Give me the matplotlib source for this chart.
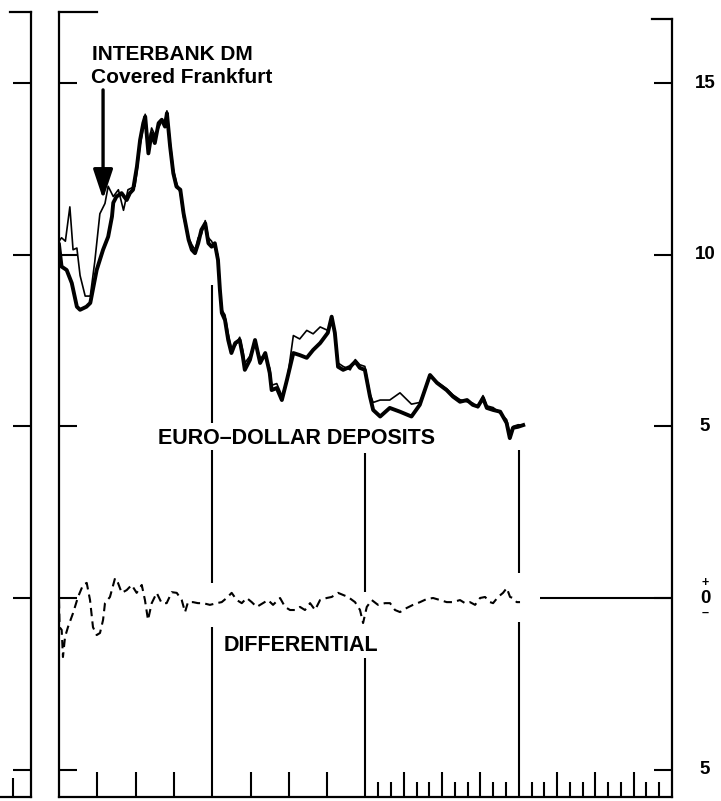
import matplotlib.pyplot as plt
import matplotlib.transforms as mtransforms

plt.rcParams['font.family'] = ['Liberation Sans', 'DejaVu Sans']

# months from start of chart (4 years = 48 months), values in percent
ed_months = [0.0, 0.2, 0.6, 1.0, 1.4, 1.65, 2.15, 2.45, 2.7, 2.95, 3.45, 3.85, 4.15, 4.25,
             4.5, 4.9, 5.3, 5.55, 5.8, 6.1, 6.35, 6.6, 6.75, 7.0, 7.25, 7.5, 7.8, 8.05, 8.3,
             8.45, 8.7, 8.95, 9.2, 9.5, 9.75, 10.15, 10.4, 10.65, 10.9, 11.15, 11.45, 11.7,
             11.95, 12.2, 12.45, 12.6, 12.75, 13.0, 13.25, 13.5, 13.8, 14.15, 14.4, 14.55,
             14.95, 15.35, 15.75, 16.15, 16.5, 16.65, 17.05, 17.45, 17.85, 18.35, 18.85,
             19.4, 19.9, 20.45, 21.05, 21.35, 21.6, 21.85, 22.25, 22.8, 23.2, 23.55, 23.95,
             24.35, 24.6, 25.15, 25.9, 26.7, 27.6, 28.25, 29.05, 29.6, 30.35, 30.85, 31.4,
             31.95, 32.4, 32.8, 33.2, 33.5, 34.0, 34.55, 35.05, 35.3, 35.55, 35.95, 36.35]
euro_dollar = [10.3, 9.66, 9.56, 9.18, 8.49, 8.40, 8.49, 8.60, 9.08, 9.56, 10.15, 10.53,
               11.12, 11.52, 11.70, 11.80, 11.60, 11.80, 11.90, 12.57, 13.35, 13.84, 14.03,
               12.96, 13.55, 13.26, 13.84, 13.94, 13.74, 14.13, 13.16, 12.38, 11.99, 11.90,
               11.22, 10.44, 10.15, 10.05, 10.34, 10.73, 10.92, 10.34, 10.24, 10.34, 9.85,
               8.98, 8.31, 8.10, 7.52, 7.14, 7.43, 7.52, 7.03, 6.65, 6.94, 7.52, 6.85, 7.14,
               6.56, 6.06, 6.12, 5.77, 6.36, 7.14, 7.08, 7.00, 7.23, 7.43, 7.73, 8.20, 7.73,
               6.74, 6.65, 6.74, 6.89, 6.71, 6.65, 5.87, 5.48, 5.29, 5.54, 5.43, 5.29, 5.63,
               6.50, 6.27, 6.06, 5.87, 5.72, 5.77, 5.63, 5.58, 5.83, 5.54, 5.48, 5.43, 5.10,
               4.66, 4.96, 4.99, 5.04]

ib_months = [0.0, 0.2, 0.5, 0.85, 1.1, 1.4, 1.65, 2.05, 2.45, 2.8, 3.2, 3.6, 3.85, 4.25,
             4.65, 5.05, 5.4, 5.95] + ed_months[19:]
interbank_dm = [10.4, 10.5, 10.4, 11.4, 10.15, 10.2, 9.4, 8.8, 8.8, 9.8, 11.2, 11.5, 12.0,
                11.7, 11.9, 11.3, 11.9, 12.0,
                12.4, 13.2, 13.7, 14.1, 13.2, 13.7, 13.5, 13.7, 13.9, 13.9, 14.2, 13.3, 12.5,
                12.1, 11.8, 11.1, 10.5, 10.3, 10.15, 10.5, 10.6, 11.0, 10.5, 10.4, 10.2, 10.0,
                9.1, 8.4, 8.25, 7.7, 7.3, 7.35, 7.6, 7.2, 6.85, 7.05, 7.45, 7.0, 7.05, 6.7,
                6.2, 6.25, 5.9, 6.3, 7.65, 7.55, 7.8, 7.7, 7.9, 7.8, 8.1, 7.8, 6.85, 6.75,
                6.65, 6.95, 6.8, 6.75, 5.95, 5.7, 5.77, 5.77, 5.98, 5.65, 5.7, 6.45, 6.3, 6.1,
                5.92, 5.78, 5.72, 5.68, 5.55, 5.9, 5.6, 5.55, 5.38, 5.2, 4.8, 5.0, 5.05, 5.04]

diff_months = [0.0, 0.05, 0.21, 0.31, 0.47, 0.7, 1.1, 1.49, 1.88, 2.17, 2.43, 2.66, 2.95,
               3.21, 3.45, 3.6, 3.99, 4.39, 4.62, 4.91, 5.3, 5.69, 6.08, 6.48, 6.73, 6.97,
               7.26, 7.65, 8.04, 8.43, 8.83, 9.22, 9.61, 9.87, 10.1, 10.49, 10.88, 11.28,
               11.82, 12.35, 12.74, 13.13, 13.52, 13.92, 14.31, 14.7, 15.09, 15.48, 15.97,
               16.37, 16.76, 17.31, 17.7, 18.09, 18.48, 18.87, 19.26, 19.66, 20.05, 20.44,
               20.96, 21.35, 21.85, 22.24, 22.63, 23.18, 23.57, 23.81, 24.1, 24.49, 24.98,
               25.53, 25.92, 26.31, 26.7, 27.23, 27.72, 28.27, 28.79, 29.29, 29.84, 30.36,
               30.85, 31.4, 31.79, 32.18, 32.58, 32.97, 33.36, 33.75, 33.99, 34.38, 34.77,
               35.06, 35.32, 35.55, 35.84, 36.1]
differential = [-0.06, -0.85, -0.93, -1.72, -1.14, -0.85, -0.44, 0.03, 0.38, 0.44, -0.06,
                -0.85, -1.08, -1.02, -0.64, -0.15, 0.03, 0.58, 0.44, 0.15, 0.23, 0.38, 0.15,
                0.38, -0.06, -0.64, -0.15, 0.15, -0.15, -0.15, 0.17, 0.15, -0.06, -0.41,
                -0.12, -0.12, -0.15, -0.15, -0.2, -0.15, -0.12, 0.0, 0.15, -0.06, -0.15, 0.0,
                -0.12, -0.26, -0.15, -0.06, -0.2, 0.0, -0.26, -0.35, -0.35, -0.26, -0.35,
                -0.15, -0.35, -0.06, 0.0, 0.03, 0.15, 0.09, 0.03, -0.12, -0.35, -0.73, -0.26,
                -0.06, -0.2, -0.15, -0.15, -0.35, -0.41, -0.29, -0.2, -0.12, -0.03, 0.0, -0.06,
                -0.12, -0.12, -0.06, -0.15, -0.12, -0.2, 0.0, 0.03, -0.12, -0.15, 0.03, 0.15,
                0.29, 0.03, 0.0, -0.12, -0.12]

y_ticks = [15, 10, 5, 0, -5]
y_labels = ['15', '10', '5', '0', '5']

YMIN, YMAX = -5.80, 17.08
W, H = 721, 801

fig = plt.figure(figsize=(W / 100, H / 100), dpi=100)

# neighbouring panel, cut off at the left edge
ax0 = fig.add_axes([(31 - 80) / W, 4 / H, 80 / W, 785 / H])
ax0.set_xlim(0, 80)
ax0.set_ylim(YMIN, YMAX)
for s in ['left', 'top']:
    ax0.spines[s].set_visible(False)
for s in ['right', 'bottom']:
    ax0.spines[s].set_linewidth(1.6)
ax0.set_yticks(y_ticks)
ax0.tick_params(axis='y', direction='in', left=False, right=True, labelleft=False,
                length=13, width=1.5)
ax0.set_xticks([62])
ax0.tick_params(axis='x', direction='in', length=14, width=1.5, labelbottom=False)
ax0.plot([0.74, 1.0], [1, 1], transform=ax0.transAxes, color='k', lw=1.6, clip_on=False)

# main chart
ax = fig.add_axes([59 / W, 4 / H, 613 / W, 785 / H])
ax.set_xlim(0, 48)
ax.set_ylim(YMIN, YMAX)
ax.spines['top'].set_visible(False)
ax.spines['right'].set_visible(False)
ax.spines['left'].set_linewidth(1.6)
ax.spines['bottom'].set_linewidth(1.6)
ax.plot([1, 1], [0, 0.991], transform=ax.transAxes, color='k', lw=1.6, clip_on=False)
ax.plot([1 - 20 / 613, 1], [0.991, 0.991], transform=ax.transAxes, color='k', lw=1.6,
        clip_on=False)
ax.plot([0, 38 / 613], [1, 1], transform=ax.transAxes, color='k', lw=1.6, clip_on=False)

ax.set_yticks(y_ticks)
ax.tick_params(axis='y', direction='in', left=True, right=True, labelleft=False,
               labelright=False, length=13, width=1.5)
quarters = [3, 6, 9, 15, 18, 21, 27, 30, 33, 39, 42, 45]
months = [m for m in range(25, 48) if m % 3 != 0]
ax.set_xticks(quarters)
ax.set_xticks(months, minor=True)
ax.tick_params(axis='x', which='major', direction='in', length=18, width=1.5,
               labelbottom=False)
ax.tick_params(axis='x', which='minor', direction='in', length=10.5, width=1.5)

# year dividers, broken around labels and lines
ax.vlines([12, 12, 12], [5.10, 0.44, YMIN], [9.13, 4.31, -0.85], color='k', lw=1.5)
ax.vlines([24, 24], [0.17, YMIN], [4.23, -1.75], color='k', lw=1.5)
ax.vlines([36, 36], [0.73, YMIN], [4.31, -0.70], color='k', lw=1.5)
ax.hlines(0, 37.7, 48, color='k', lw=1.5)

ax.plot(ed_months, euro_dollar, color='k', lw=2.8, solid_joinstyle='round')
ax.plot(ib_months, interbank_dm, color='k', lw=1.2)
ax.plot(diff_months, differential, color='k', lw=1.5, ls=(0, (4, 2.5)))

trans = mtransforms.blended_transform_factory(ax.transAxes, ax.transData)
lx = 1 + (705 - 672) / 613
for v, lab in zip(y_ticks, y_labels):
    ax.text(lx, v, lab, transform=trans, ha='center', va='center', fontsize=13.5,
            fontweight='bold', clip_on=False)
ax.text(lx, 0.45, '+', transform=trans, ha='center', va='center', fontsize=9,
        fontweight='bold')
ax.text(lx, -0.42, '\u2013', transform=trans, ha='center', va='center', fontsize=9,
        fontweight='bold')

ax.annotate('', xy=(3.45, 11.63), xytext=(3.45, 14.81),
            arrowprops=dict(arrowstyle='-|>,head_length=0.9,head_width=0.3',
                            mutation_scale=20, lw=2.4, color='k', shrinkA=0, shrinkB=0))
ax.text(2.58, 15.85, 'INTERBANK DM', ha='left', va='center', fontsize=15,
        fontweight='bold')
ax.text(2.5, 15.16, 'Covered Frankfurt', ha='left', va='center', fontsize=15,
        fontweight='bold')
ax.text(18.56, 4.64, 'EURO\u2013DOLLAR DEPOSITS', ha='center', va='center', fontsize=15.5,
        fontweight='bold')
ax.text(18.95, -1.37, 'DIFFERENTIAL', ha='center', va='center', fontsize=15.5,
        fontweight='bold')

fig.savefig('out.png', dpi=100)
